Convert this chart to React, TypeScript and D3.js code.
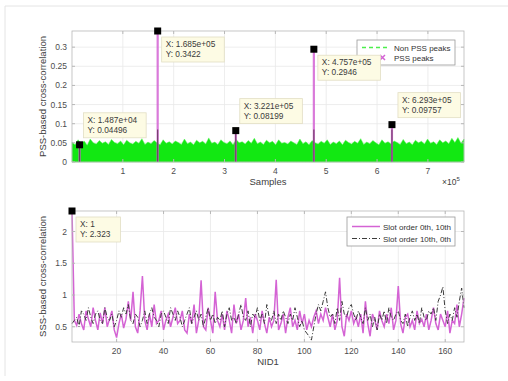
import { useMemo } from "react";
import * as d3 from "d3";

// top panel: envelope of the non-PSS correlation
const NOISE_MAX_X = 7.71e5;
const noiseTop = [
  0.052, 0.045, 0.058, 0.048, 0.055, 0.044, 0.06, 0.05, 0.047, 0.056, 0.049, 0.053, 0.046, 0.059, 0.051, 0.048, 0.055, 0.045, 0.057, 0.05,
  0.047, 0.054, 0.049, 0.061, 0.046, 0.052, 0.048, 0.056, 0.05, 0.045, 0.058, 0.049, 0.053, 0.047, 0.055, 0.051, 0.046, 0.06, 0.048, 0.052,
  0.045, 0.057, 0.05, 0.054, 0.047, 0.063, 0.049, 0.052, 0.046, 0.058, 0.051, 0.048, 0.055, 0.045, 0.059, 0.05, 0.053, 0.047, 0.056, 0.049,
  0.062, 0.048, 0.052, 0.046, 0.057, 0.05, 0.054, 0.045, 0.058, 0.049, 0.051, 0.047, 0.055, 0.05, 0.046, 0.06, 0.048, 0.053, 0.045, 0.056,
  0.05, 0.047, 0.054, 0.049, 0.058, 0.046, 0.052, 0.048, 0.055, 0.045, 0.057, 0.051, 0.047, 0.054, 0.049, 0.061, 0.046, 0.052, 0.048, 0.056,
  0.05, 0.045, 0.058, 0.049, 0.053, 0.047, 0.055, 0.051, 0.046, 0.059, 0.048, 0.052, 0.045, 0.057, 0.05, 0.054, 0.047, 0.06, 0.049, 0.053,
  0.046, 0.058, 0.05, 0.055, 0.048, 0.062, 0.051, 0.064, 0.049, 0.06,
];

const peakX = [1.487e4, 1.685e5, 3.221e5, 4.757e5, 6.293e5];
const peakY = [0.04496, 0.3422, 0.08199, 0.2946, 0.09757];
const peakLabelX = ["1.487e+04", "1.685e+05", "3.221e+05", "4.757e+05", "6.293e+05"];
const peakLabelY = ["0.04496", "0.3422", "0.08199", "0.2946", "0.09757"];

const topXTicks = [1e5, 2e5, 3e5, 4e5, 5e5, 6e5, 7e5];
const topYTicks = [0, 0.05, 0.1, 0.15, 0.2, 0.25, 0.3];

// bottom panel: SSS correlation vs NID1
const nid1 = d3.range(1, 169);
const slot0_10 = [
  2.323, 0.6, 0.52, 0.7, 0.55, 0.45, 0.75, 0.62, 0.5, 0.8,
  0.6, 0.45, 0.72, 0.55, 0.8, 0.5, 0.62, 0.75, 0.45, 0.33,
  0.55, 0.7, 0.48, 0.62, 0.9, 0.6, 1.05, 0.5, 0.4, 0.75,
  1.3, 0.6, 0.45, 0.7, 0.5, 0.85, 0.55, 0.6, 0.75, 0.45,
  0.6, 0.7, 0.5, 0.65, 0.8, 0.55, 0.6, 0.75, 0.45, 0.4,
  0.7, 0.55, 0.85, 0.4, 0.6, 1.23, 0.5, 0.45, 0.8, 0.6,
  0.4, 1.05, 0.6, 0.5, 0.7, 0.45, 0.75, 0.6, 0.4, 0.85,
  0.55, 0.7, 0.45, 0.6, 0.95, 0.5, 0.65, 0.4, 0.7, 0.6,
  0.45, 0.75, 0.55, 0.4, 0.65, 0.5, 0.6, 1.24, 0.45, 0.55,
  0.7, 0.4, 0.65, 0.8, 0.5, 0.6, 0.45, 0.75, 0.55, 0.7,
  0.45, 0.6, 0.5, 0.65, 0.75, 0.55, 0.7, 0.6, 0.8, 0.65,
  0.5, 0.7, 0.45, 0.6, 1.27, 0.5, 0.35, 0.7, 0.6, 0.75,
  0.55, 0.65, 0.5, 0.7, 0.4, 0.9, 0.55, 0.35, 0.7, 0.6,
  0.45, 0.75, 0.6, 0.5, 0.7, 0.55, 0.8, 0.45, 0.6, 1.14,
  0.55, 0.4, 0.65, 0.7, 0.5, 0.6, 0.45, 0.75, 0.55, 0.62,
  0.5, 0.7, 0.45, 0.6, 0.8, 0.55, 0.45, 0.7, 0.6, 0.5,
  0.75, 0.4, 0.6, 0.55, 0.85, 0.5, 0.7, 0.95,
];
const slot10_0 = [
  0.55, 0.6, 0.65, 0.5, 0.75, 0.7, 0.6, 0.8, 0.65, 0.55,
  0.7, 0.75, 0.6, 0.55, 0.8, 0.65, 0.6, 0.7, 0.5, 0.6,
  0.75, 0.65, 0.8, 0.7, 0.85, 0.6, 0.55, 0.7, 0.65, 0.5,
  0.6, 0.75, 0.55, 0.7, 0.8, 0.65, 0.6, 0.5, 0.7, 0.75,
  0.65, 0.55, 0.8, 0.7, 0.6, 0.75, 0.65, 0.5, 0.6, 0.7,
  0.8, 0.55, 0.65, 0.75, 0.6, 0.7, 0.5, 0.65, 0.8, 0.6,
  0.7, 0.55, 0.65, 0.6, 0.75, 0.5, 0.7, 0.8, 0.6, 0.65,
  0.55, 0.7, 0.85, 0.65, 0.6, 0.75, 0.5, 0.7, 0.65, 0.8,
  0.6, 0.7, 0.55, 0.85, 0.65, 0.6, 0.75, 0.55, 0.7, 0.6,
  0.75, 0.65, 0.55, 0.7, 0.6, 0.8, 0.65, 0.5, 0.6, 0.45,
  0.4, 0.35, 0.29, 0.5, 0.7, 0.85, 0.75, 0.9, 1.05, 0.8,
  0.65, 0.7, 0.55, 0.8, 0.6, 0.9, 0.7, 0.65, 0.8, 0.85,
  0.7, 0.6, 0.75, 0.65, 0.55, 0.8, 0.6, 0.7, 0.5, 0.65,
  0.45, 0.7, 0.6, 0.75, 0.55, 0.8, 0.65, 0.6, 0.7, 0.75,
  0.6, 0.55, 0.7, 0.5, 0.65, 0.75, 0.6, 0.7, 0.55, 0.8,
  0.65, 0.6, 0.75, 0.7, 0.8, 0.6, 0.9, 1.0, 1.13, 0.75,
  0.55, 0.7, 0.6, 0.8, 0.65, 0.9, 1.11, 0.8,
];
const botXTicks = [20, 40, 60, 80, 100, 120, 140, 160];
const botYTicks = [0.5, 1, 1.5, 2];

const FONT = "'Liberation Sans', Arial, sans-serif";
const GREEN = "#12e812";
const MAGENTA = "#d463d4";
const TICK_COLOR = "#4d4d4d";
const BOX = "#b8b8b8";
const GRID = "#e8e8e8";

const W = 508;
const H = 381;
const left = 72;
const right = 464;

function DataTip({ px, py, dx, dy, lines }: { px: number; py: number; dx: number; dy: number; lines: string[] }) {
  const w = Math.max(...lines.map((l) => l.length)) * 4.55 + 8;
  const h = 25;
  return (
    <g>
      <rect x={px + dx} y={py + dy} width={w} height={h} fill="#fdfbe4" stroke="#e2dec4" strokeWidth={0.8} />
      {lines.map((l, i) => (
        <text key={i} x={px + dx + 4} y={py + dy + 10 + i * 10} fontSize={8.3} fill="#3a3a3a">
          {l}
        </text>
      ))}
      <rect x={px - 3.5} y={py - 3.5} width={7} height={7} fill="#000" />
    </g>
  );
}

function Grid({ x, y, top, bottom, xTicks, yTicks }: any) {
  return (
    <g>
      {xTicks.map((t: number) => (
        <line key={"gx" + t} x1={x(t)} x2={x(t)} y1={top} y2={bottom} stroke={GRID} strokeWidth={0.8} />
      ))}
      {yTicks.map((t: number) => (
        <line key={"gy" + t} x1={left} x2={right} y1={y(t)} y2={y(t)} stroke={GRID} strokeWidth={0.8} />
      ))}
    </g>
  );
}

function Axes({ x, y, top, bottom, xTicks, yTicks, fmtY, fmtX }: any) {
  return (
    <g fontFamily={FONT}>
      <rect x={left} y={top} width={right - left} height={bottom - top} fill="none" stroke={BOX} strokeWidth={0.8} />
      {xTicks.map((t: number) => (
        <g key={"tx" + t}>
          <line x1={x(t)} x2={x(t)} y1={bottom} y2={bottom - 3} stroke={BOX} />
          <line x1={x(t)} x2={x(t)} y1={top} y2={top + 3} stroke={BOX} />
          <text x={x(t)} y={bottom + 12} fontSize={8.5} fill={TICK_COLOR} textAnchor="middle">
            {fmtX(t)}
          </text>
        </g>
      ))}
      {yTicks.map((t: number) => (
        <g key={"ty" + t}>
          <line x1={left} x2={left + 3} y1={y(t)} y2={y(t)} stroke={BOX} />
          <line x1={right} x2={right - 3} y1={y(t)} y2={y(t)} stroke={BOX} />
          <text x={left - 5} y={y(t) + 3} fontSize={8.5} fill={TICK_COLOR} textAnchor="end">
            {fmtY(t)}
          </text>
        </g>
      ))}
    </g>
  );
}

export default function App() {
  const xTop = useMemo(() => d3.scaleLinear().domain([0, NOISE_MAX_X]).range([left, right]), []);
  const yTop = useMemo(() => d3.scaleLinear().domain([0, 0.3422]).range([162, 31]), []);
  const xBot = useMemo(() => d3.scaleLinear().domain([1, 168]).range([left, right]), []);
  const yBot = useMemo(() => d3.scaleLinear().domain([0.26, 2.323]).range([342, 211]), []);

  const step = NOISE_MAX_X / (noiseTop.length - 1);
  const noiseArea = d3
    .area<number>()
    .x((_, i) => xTop(i * step))
    .y0(yTop(0))
    .y1((d) => yTop(d))(noiseTop);

  const lineBot = d3
    .line<number>()
    .x((_, i) => xBot(nid1[i]))
    .y((d) => yBot(d));

  return (
    <svg width={W} height={H} style={{ position: "absolute", left: 0, top: 0, background: "#fff" }} fontFamily={FONT}>
      {/* faint figure border */}
      <line x1={5} x2={W} y1={6} y2={6} stroke="#e4e4e4" />
      <line x1={5} x2={5} y1={6} y2={376} stroke="#e4e4e4" />

      {/* ---------- top panel ---------- */}
      <Grid x={xTop} y={yTop} top={31} bottom={162} xTicks={topXTicks} yTicks={topYTicks} />
      <path d={noiseArea ?? ""} fill={GREEN} stroke="#5cf05c" strokeWidth={0.5} />
      {peakX.map((px, i) => (
        <g key={"pk" + i}>
          <line x1={xTop(px)} x2={xTop(px)} y1={yTop(0)} y2={yTop(peakY[i])} stroke={MAGENTA} strokeWidth={2.2} opacity={0.85} />
          <line x1={xTop(px)} x2={xTop(px)} y1={yTop(0)} y2={yTop(Math.min(peakY[i], 0.085))} stroke="#6b3a63" strokeWidth={1.1} />
        </g>
      ))}
      <Axes
        x={xTop}
        y={yTop}
        top={31}
        bottom={162}
        xTicks={topXTicks}
        yTicks={topYTicks}
        fmtX={(t: number) => String(t / 1e5)}
        fmtY={(t: number) => String(t)}
      />
      <text x={(left + right) / 2} y={185} fontSize={9.5} fill="#404040" textAnchor="middle">
        Samples
      </text>
      <text x={442} y={185} fontSize={8.5} fill="#404040">
        ×10<tspan dy={-4} fontSize={6}>5</tspan>
      </text>
      <text transform={`translate(46,${(31 + 162) / 2}) rotate(-90)`} fontSize={9.5} fill="#404040" textAnchor="middle">
        PSS-based cross-correlation
      </text>

      {/* legend top */}
      <g>
        <rect x={357} y={40} width={98} height={25} fill="#fff" stroke="#999" strokeWidth={0.8} />
        <path d="M362,47.5 H389" stroke="#4cef4c" strokeWidth={1.6} strokeDasharray="4,3" fill="none" />
        <text x={394} y={50.5} fontSize={8} fill="#333">Non PSS peaks</text>
        <path d="M380,55 l5,5 M385,55 l-5,5" stroke={MAGENTA} strokeWidth={1.5} />
        <text x={394} y={60.5} fontSize={8} fill="#333">PSS peaks</text>
      </g>

      {/* data tips top */}
      {peakX.map((px, i) => {
        const above = i === 0 || i === 2 || i === 4;
        return (
          <DataTip
            key={"tip" + i}
            px={xTop(px)}
            py={yTop(peakY[i])}
            dx={i === 4 ? 6 : 4}
            dy={above ? -32 : 6}
            lines={["X: " + peakLabelX[i], "Y: " + peakLabelY[i]]}
          />
        );
      })}

      {/* ---------- bottom panel ---------- */}
      <Grid x={xBot} y={yBot} top={211} bottom={342} xTicks={botXTicks} yTicks={botYTicks} />
      <path d={lineBot(slot0_10) ?? ""} fill="none" stroke={MAGENTA} strokeWidth={1.5} />
      <path d={lineBot(slot10_0) ?? ""} fill="none" stroke="#3c3c3c" strokeWidth={1} strokeDasharray="5,2,1,2" />
      <Axes
        x={xBot}
        y={yBot}
        top={211}
        bottom={342}
        xTicks={botXTicks}
        yTicks={botYTicks}
        fmtX={(t: number) => String(t)}
        fmtY={(t: number) => String(t)}
      />
      <text x={(left + right) / 2} y={365} fontSize={9.5} fill="#404040" textAnchor="middle">
        NID1
      </text>
      <text transform={`translate(46,${(211 + 342) / 2}) rotate(-90)`} fontSize={9.5} fill="#404040" textAnchor="middle">
        SSS-based cross-correlation
      </text>

      {/* legend bottom */}
      <g>
        <rect x={347} y={217} width={108} height={29} fill="#fff" stroke="#999" strokeWidth={0.8} />
        <line x1={352} x2={380} y1={226.5} y2={226.5} stroke={MAGENTA} strokeWidth={1.5} />
        <text x={383} y={229.5} fontSize={8} fill="#333">Slot order 0th, 10th</text>
        <line x1={352} x2={380} y1={238.5} y2={238.5} stroke="#3c3c3c" strokeWidth={1} strokeDasharray="5,2,1,2" />
        <text x={383} y={241.5} fontSize={8} fill="#333">Slot order 10th, 0th</text>
      </g>

      <DataTip px={xBot(nid1[0])} py={yBot(slot0_10[0])} dx={4} dy={6} lines={["X: 1", "Y: 2.323"]} />
    </svg>
  );
}
